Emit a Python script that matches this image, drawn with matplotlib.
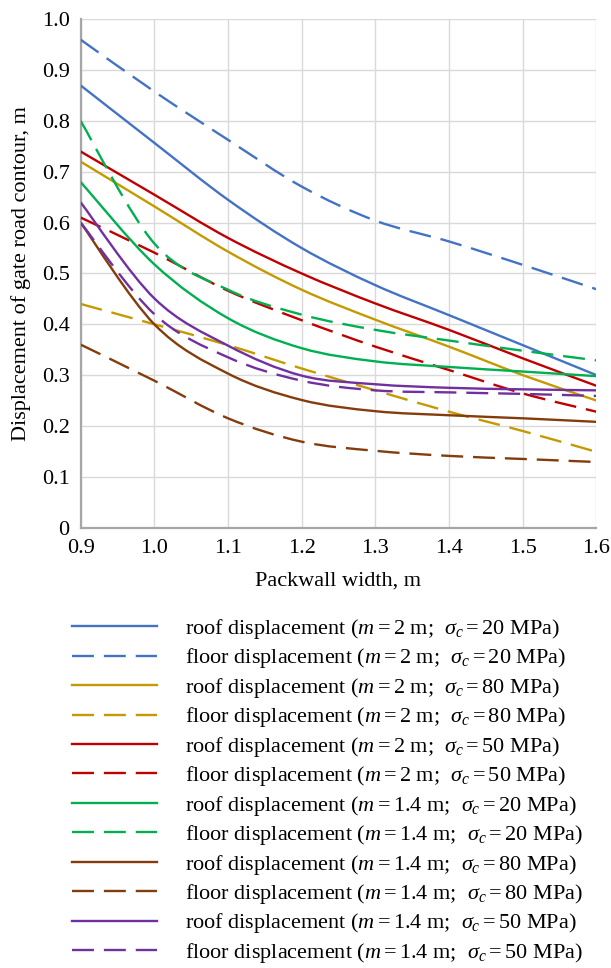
import matplotlib

matplotlib.use("Agg")
import matplotlib.pyplot as plt
import numpy as np
from matplotlib.lines import Line2D
from matplotlib.patches import PathPatch
from matplotlib.path import Path

plt.rcParams["font.family"] = "Liberation Serif"
plt.rcParams["mathtext.fontset"] = "custom"
plt.rcParams["mathtext.rm"] = "Liberation Serif"
plt.rcParams["mathtext.it"] = "Liberation Serif:italic"

# packwall width, m
WIDTH = [0.9, 1.0, 1.1, 1.2, 1.3, 1.4, 1.5, 1.6]

# displacement of gate road contour, m (roof / floor for each seam height and strength)
ROOF_M2_S20 = [0.870, 0.757, 0.645, 0.550, 0.477, 0.418, 0.359, 0.300]
FLOOR_M2_S20 = [0.960, 0.858, 0.763, 0.671, 0.604, 0.563, 0.517, 0.469]
ROOF_M2_S80 = [0.720, 0.632, 0.543, 0.468, 0.409, 0.356, 0.300, 0.250]
FLOOR_M2_S80 = [0.440, 0.400, 0.359, 0.313, 0.270, 0.228, 0.190, 0.149]
ROOF_M2_S50 = [0.740, 0.655, 0.570, 0.500, 0.441, 0.389, 0.333, 0.279]
FLOOR_M2_S50 = [0.610, 0.541, 0.466, 0.408, 0.356, 0.310, 0.264, 0.228]
ROOF_M14_S20 = [0.680, 0.518, 0.412, 0.353, 0.327, 0.316, 0.307, 0.298]
FLOOR_M14_S20 = [0.800, 0.559, 0.468, 0.419, 0.389, 0.368, 0.348, 0.329]
ROOF_M14_S80 = [0.600, 0.400, 0.303, 0.251, 0.229, 0.221, 0.215, 0.208]
FLOOR_M14_S80 = [0.360, 0.289, 0.215, 0.169, 0.151, 0.141, 0.135, 0.129]
ROOF_M14_S50 = [0.640, 0.451, 0.358, 0.299, 0.282, 0.275, 0.272, 0.270]
FLOOR_M14_S50 = [0.600, 0.420, 0.335, 0.289, 0.270, 0.266, 0.263, 0.259]

X_TICKS = [0.9, 1.0, 1.1, 1.2, 1.3, 1.4, 1.5, 1.6]
Y_TICKS = [0, 0.1, 0.2, 0.3, 0.4, 0.5, 0.6, 0.7, 0.8, 0.9, 1.0]

BLUE = "#4472C4"
GOLD = "#C49A00"
RED = "#C00000"
GREEN = "#00B050"
BROWN = "#843C0C"
PURPLE = "#7030A0"

DASH = (0, (9.3, 4.2))
LINE_WIDTH = 1.7


def label(kind: str, seam: str, strength: int) -> str:
    return rf"{kind} displacement ($m=${seam} m;  $\sigma_c=${strength} MPa)"


SERIES = [
    (ROOF_M2_S20, BLUE, "-", label("roof", "2", 20)),
    (FLOOR_M2_S20, BLUE, DASH, label("floor", "2", 20)),
    (ROOF_M2_S80, GOLD, "-", label("roof", "2", 80)),
    (FLOOR_M2_S80, GOLD, DASH, label("floor", "2", 80)),
    (ROOF_M2_S50, RED, "-", label("roof", "2", 50)),
    (FLOOR_M2_S50, RED, DASH, label("floor", "2", 50)),
    (ROOF_M14_S20, GREEN, "-", label("roof", "1.4", 20)),
    (FLOOR_M14_S20, GREEN, DASH, label("floor", "1.4", 20)),
    (ROOF_M14_S80, BROWN, "-", label("roof", "1.4", 80)),
    (FLOOR_M14_S80, BROWN, DASH, label("floor", "1.4", 80)),
    (ROOF_M14_S50, PURPLE, "-", label("roof", "1.4", 50)),
    (FLOOR_M14_S50, PURPLE, DASH, label("floor", "1.4", 50)),
]


def smooth_path(x, y) -> Path:
    """Smoothed line through the points (Catmull-Rom as cubic Bezier segments)."""
    pts = np.column_stack([x, y]).astype(float)
    padded = np.vstack([pts[0], pts, pts[-1]])
    verts = [pts[0]]
    codes = [Path.MOVETO]
    for i in range(len(pts) - 1):
        p0, p1, p2, p3 = padded[i], padded[i + 1], padded[i + 2], padded[i + 3]
        verts += [p1 + (p2 - p0) / 6, p2 - (p3 - p1) / 6, p2]
        codes += [Path.CURVE4] * 3
    return Path(verts, codes)


fig = plt.figure(figsize=(6.11, 9.68), dpi=100)
ax = fig.add_axes([0.132, 0.455, 0.844, 0.525])

handles = []
for values, color, style, text in SERIES:
    patch = PathPatch(
        smooth_path(WIDTH, values),
        fill=False,
        edgecolor=color,
        linewidth=LINE_WIDTH,
        linestyle=style,
        joinstyle="round",
        zorder=3,
    )
    ax.add_patch(patch)
    handles.append(Line2D([], [], color=color, linewidth=LINE_WIDTH, linestyle=style, label=text))

ax.set_xlim(0.9, 1.6)
ax.set_ylim(0, 1.0)
ax.set_xticks(X_TICKS)
ax.set_xticklabels([f"{v:.1f}" for v in X_TICKS])
ax.set_yticks(Y_TICKS)
ax.set_yticklabels(["0"] + [f"{v:.1f}" for v in Y_TICKS[1:]])
ax.tick_params(length=0, labelsize=16, pad=8)
ax.grid(True, color="#D9D9D9", linewidth=1.0)
ax.set_axisbelow(True)
for side in ("top", "right"):
    ax.spines[side].set_visible(False)
for side in ("left", "bottom"):
    ax.spines[side].set_color("#A6A6A6")
    ax.spines[side].set_linewidth(1.6)

ax.set_xlabel("Packwall width, m", fontsize=16, labelpad=10)
ax.set_ylabel("Displacement of gate road contour, m", fontsize=16, labelpad=8)

fig.legend(
    handles=handles,
    loc="upper left",
    bbox_to_anchor=(72 / 611, 1 - 617 / 968),
    frameon=False,
    fontsize=16,
    handlelength=3.83,
    handletextpad=1.26,
    labelspacing=0.245,
    borderpad=0,
    borderaxespad=0,
)

fig.savefig("out.png", dpi=100)
